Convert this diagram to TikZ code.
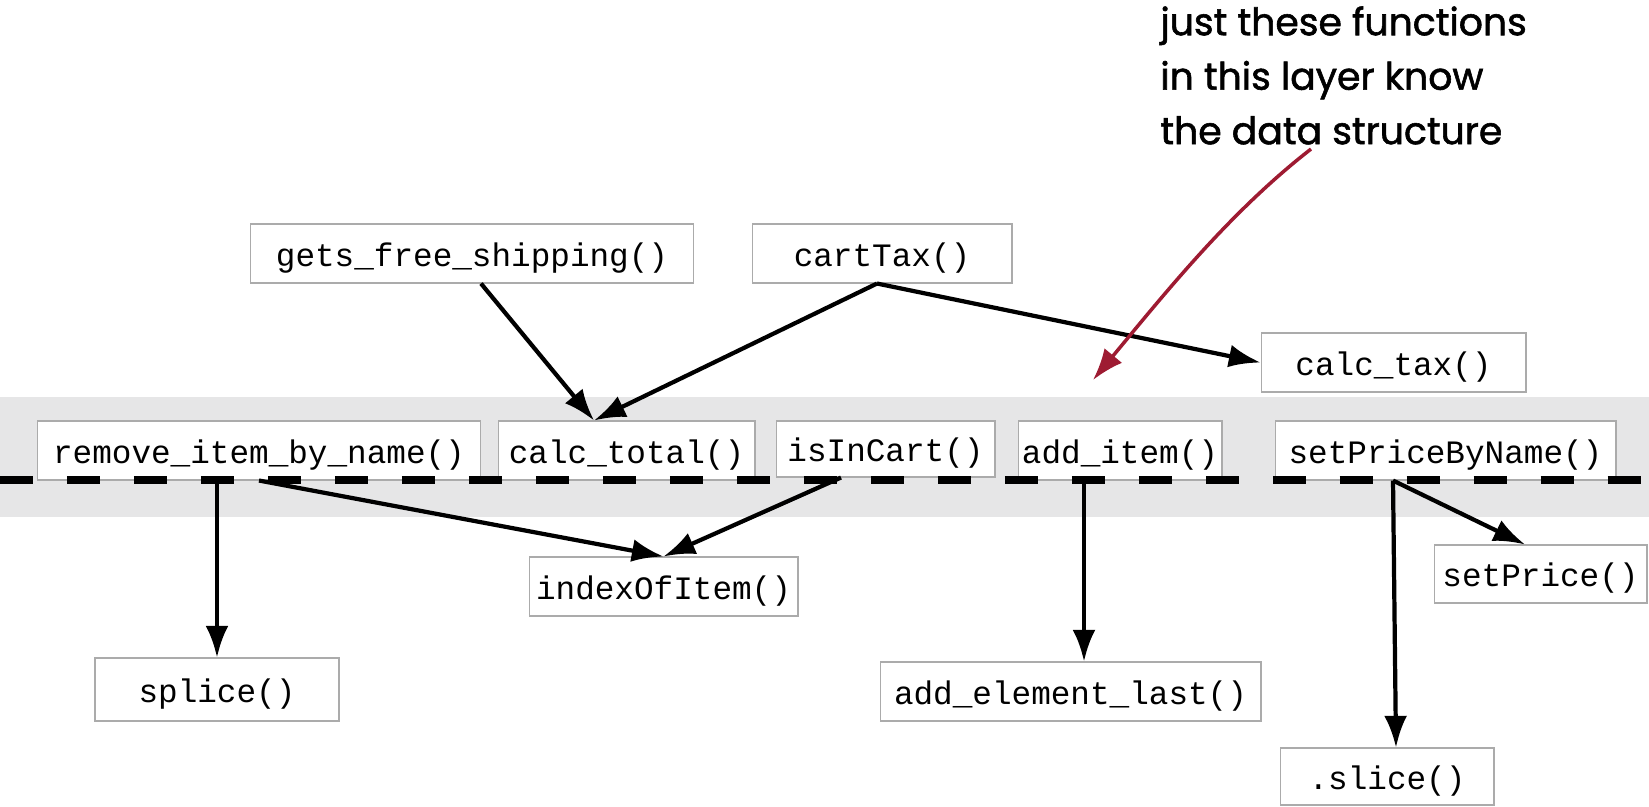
\documentclass[tikz,border=0pt]{standalone}
\usepackage{fontspec}
\setmonofont{Liberation Mono}
\newfontfamily\handfont{Poppins}[FakeBold=1.5]
\usepackage{xcolor}
\usepackage{tikz}
\usetikzlibrary{arrows.meta, calc, positioning}

\definecolor{bandgray}{HTML}{E6E6E7}
\definecolor{boxline}{HTML}{ABABAB}
\definecolor{notered}{HTML}{9E1B32}

\tikzset{
    fn/.style={draw=boxline, line width=0.6pt, fill=white, inner sep=0pt,
        minimum height=1.18cm, text height=18pt, text depth=3.7pt,
        font=\ttfamily\fontsize{18.6}{18}\selectfont},
    arr/.style={line width=2.4pt, -{Latex[length=18pt, width=13pt]}},
}

\begin{document}
\begin{tikzpicture}[x=0.02cm, y=-0.02cm]
    \useasboundingbox (0,0) rectangle (1649,806);

    % 1. Layer band
    \fill[bandgray] (0,397) rectangle (1649,517);

    % 2. Functions
    \node[fn, minimum width=8.88cm] (gfs) at (472,253.5) {gets\_free\_shipping()};
    \node[fn, minimum width=5.2cm] (ctax) at (882,253.5) {cartTax()};
    \node[fn, minimum width=5.3cm] (calctax) at (1393.5,362.5) {calc\_tax()};

    \node[fn, minimum width=8.88cm] (rm) at (259,450.5) {remove\_item\_by\_name()};
    \node[fn, minimum width=5.14cm] (ctot) at (626.5,450.5) {calc\_total()};
    \node[fn, minimum width=4.38cm, minimum height=1.12cm] (inc) at (885.5,449) {isInCart()};
    \node[fn, minimum width=4.08cm] (addi) at (1120,450.5) {add\_item()};
    \node[fn, minimum width=6.82cm] (spbn) at (1445.5,450.5) {setPriceByName()};

    \node[fn, minimum width=5.38cm] (idx) at (663.5,586.5) {indexOfItem()};
    \node[fn, minimum width=4.26cm, minimum height=1.16cm] (setp) at (1540.5,574) {setPrice()};
    \node[fn, minimum width=4.88cm, minimum height=1.26cm] (spl) at (217,689.5) {splice()};
    \node[fn, minimum width=7.62cm] (ael) at (1070.5,691.5) {add\_element\_last()};
    \node[fn, minimum width=4.28cm, minimum height=1.14cm] (sli) at (1387,776.5) {.slice()};

    % 3. Dashed layer line
    \draw[line width=4.2pt, dash pattern=on 0.67cm off 0.67cm] (0,480) -- (1649,480);

    % 4. Calls
    \draw[arr] ([xshift=0.18cm]gfs.south) -- ([xshift=-0.65cm]ctot.north);
    \draw[arr] ([xshift=-0.1cm]ctax.south) -- ([xshift=-0.65cm]ctot.north);
    \draw[arr] ([xshift=-0.1cm]ctax.south) -- (calctax.west);
    \draw[arr] (spl.north |- rm.south) -- (spl.north);
    \draw[arr] (rm.south) -- (idx.north);
    \draw[arr] ([xshift=-0.89cm]inc.south) -- (idx.north);
    \draw[arr] ([xshift=-0.72cm]addi.south) -- ([xshift=-0.72cm]addi.south |- ael.north);
    \draw[arr] ([xshift=-1.05cm]spbn.south) -- ([xshift=0.18cm]sli.north);
    \draw[arr] ([xshift=-1.05cm]spbn.south) -- ([xshift=-0.31cm]setp.north);

    % 5. Note
    \node[anchor=north west, inner sep=0pt, align=left,
        font=\handfont\fontsize{21.5}{31}\selectfont] (note) at (1160,6)
        {just these functions\\in this layer know\\the data structure};
    \coordinate (noteend) at (1093,380);
    \draw[notered, line width=2pt, -{Latex[length=18pt, width=13pt]}]
        (1311,149) .. controls (1230,212) and (1166,292) .. (noteend);
\end{tikzpicture}
\end{document}
